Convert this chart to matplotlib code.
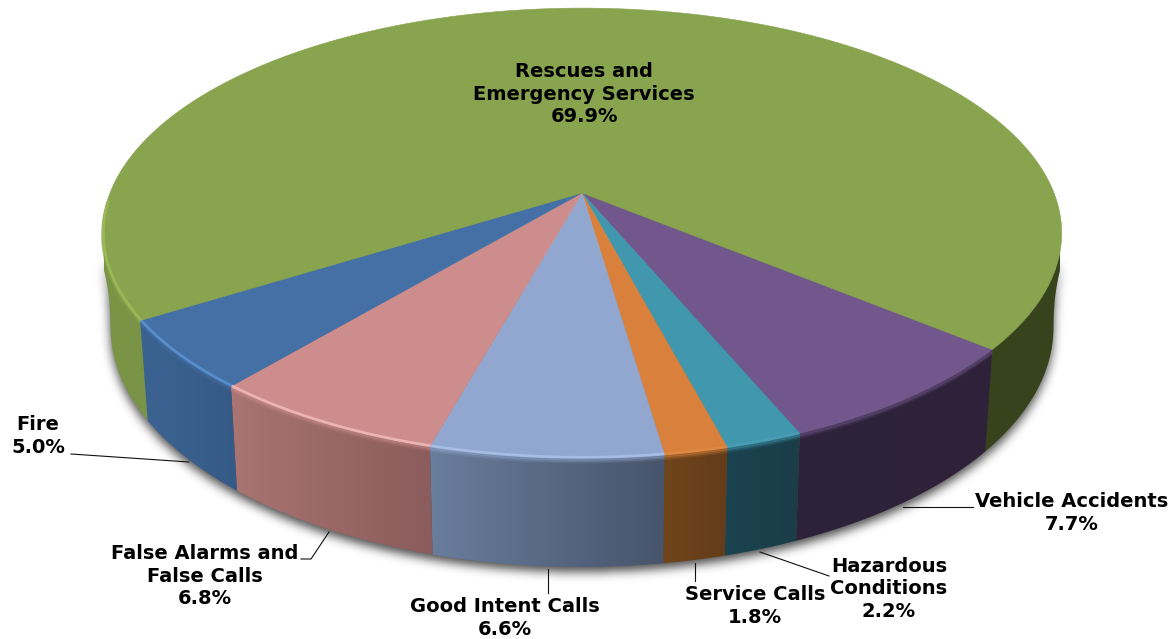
import numpy as np
import matplotlib
matplotlib.use("Agg")
import matplotlib.pyplot as plt
from matplotlib.patches import Polygon
from matplotlib.path import Path
from matplotlib.colors import to_rgb

# ---- data (clockwise from the right-hand green/purple boundary) ----
categories = ["Vehicle Accidents", "Hazardous\nConditions", "Service Calls",
              "Good Intent Calls", "False Alarms and\nFalse Calls", "Fire",
              "Rescues and\nEmergency Services"]
values = [7.7, 2.2, 1.8, 6.6, 6.8, 5.0, 69.9]

top_colors = ["#71578c", "#4097ae", "#d9813c", "#92a7cf", "#cd8d8c", "#4570a5", "#88a44f"]
rim_colors = [None, "#4a9fb6", "#e08a45", "#acc2ea", "#f2bcbb", "#5c93d2", "#9dbd58"]
side_left = ["#2f223b", "#1b4350", "#70451c", "#697d9d", "#a97472", "#3b6391", "#7a9446"]
side_right = ["#2e2139", "#1a3d48", "#633c19", "#47546b", "#8a5c5b", "#365a87", "#37431c"]

label_pos = [(1072, 513), (889, 589), (755, 606), (505, 618), (205, 576), (38, 436), (584, 94)]
leaders = [[(903, 507), (973, 507)],
           [(760, 552), (829, 576)],
           [(695, 563), (695, 581)],
           [(548, 569), (548, 593)],
           [(301, 559), (311, 559), (329, 532)],
           [(71, 454), (189, 462)]]

start_deg = 39.6
CX, CY = 582.0, 193.0
A, B, K = 472.0, 217.8, 0.178
SX, SY, DY = 0.983, 1.065, 91.7
PUSH = 347.0
WALL_HALF = 478.0

W, H = 1173, 639
fig = plt.figure(figsize=(W / 100, H / 100), dpi=100)
ax = fig.add_axes([0, 0, 1, 1])
ax.set_axis_off()


def top(t, scale=1.0):
    t = np.radians(t)
    u, v = np.cos(t) * scale, np.sin(t) * scale
    w = 1 - K * v
    return CX + A * u / w, CY + B * v / w


def bottom(t):
    x, y = top(t)
    r = np.radians(t)
    # the wall edges lean outward towards the rear of the disc
    p = PUSH * np.clip(K - np.sin(r), 0, None) ** 2 * np.sign(np.cos(r))
    return np.clip(CX + (x - CX) * SX + p, CX - WALL_HALF, CX + WALL_HALF), CY + DY + (y - CY) * SY


def blur(a, r):
    k = np.exp(-0.5 * (np.arange(-3 * r, 3 * r + 1) / r) ** 2)
    k /= k.sum()
    a = np.apply_along_axis(lambda m: np.convolve(m, k, mode="same"), 0, a)
    return np.apply_along_axis(lambda m: np.convolve(m, k, mode="same"), 1, a)


# soft shadow under the disc, fading out towards the rear
yy, xx = np.mgrid[0:H, 0:W]
tt = np.linspace(-18, 198, 300)
bx, by = bottom(tt)
sil = Path(np.c_[bx, by + 5]).contains_points(np.c_[xx.ravel() + .5, yy.ravel() + .5]).reshape(H, W)
sh = blur(sil.astype(float), 5)
rgba = np.zeros((H, W, 4))
rgba[..., 3] = sh * 0.7 * np.clip((yy - 255) / 50, 0, 1)
ax.imshow(rgba, extent=(0, W, H, 0), aspect="auto", zorder=1, interpolation="bilinear")

# angular ranges
edges = start_deg + np.cumsum([0] + values) * 3.6
ranges = [(edges[i], edges[i + 1]) for i in range(len(values))]


def side(a0, a1, cl, cr, to_apex=False):
    t = np.linspace(a0, a1, 80)
    x1, y1 = bottom(t)
    if to_apex:
        # swept towards the apex: the top faces and front walls cover the inner part
        pts = np.r_[[[CX, CY]], np.c_[x1, y1]]
    else:
        x0, y0 = top(t)
        pts = np.r_[np.c_[x0, y0], np.c_[x1, y1][::-1]]
    lo, hi = pts[:, 0].min(), pts[:, 0].max()
    c = np.linspace(0, 1, 64)[None, :, None]
    grad = np.array(to_rgb(cl))[None, None, :] * (1 - c) + np.array(to_rgb(cr))[None, None, :] * c
    im = ax.imshow(grad, extent=(lo, hi, H, 0), aspect="auto", zorder=2, interpolation="bilinear")
    poly = Polygon(pts, closed=True, transform=ax.transData, fc="none", ec="none")
    ax.add_patch(poly)
    im.set_clip_path(poly)


# green wall first: right-hand and left-hand visible parts
side(-18, start_deg, "#37431c", "#37431c", to_apex=True)
side(edges[6], 198, "#7a9446", "#7a9446", to_apex=True)
# front walls
for i in range(6):
    side(ranges[i][0], ranges[i][1], side_left[i], side_right[i])

# top faces
for i in range(7):
    a0, a1 = ranges[i]
    t = np.linspace(a0, a1, max(int(a1 - a0) * 2, 30))
    x, y = top(t)
    ax.add_patch(Polygon(np.r_[[[CX, CY]], np.c_[x, y]], closed=True,
                         fc=top_colors[i], ec=top_colors[i], lw=0.4, zorder=3))

# bevel: soft transition from face to wall, with a highlight on the lit rim
for i in range(7):
    a0, a1 = ranges[i]
    if i == 6:
        a1 = 178
    t = np.linspace(a0, a1, 60)
    x2, y2 = top(t, 1.0)
    for off, al in zip([1.5, 3.0, 4.5], [0.5, 0.3, 0.12]):
        ax.plot(x2, y2 + off, color=top_colors[i], lw=1.6, alpha=al, zorder=4,
                solid_capstyle="butt")
    if rim_colors[i] is not None:
        x, y = top(t, 0.998)
        ax.plot(x, y, color=rim_colors[i], lw=2.0, zorder=4, solid_capstyle="butt", alpha=0.85)

# leader lines
for seg in leaders:
    p = np.array(seg)
    ax.plot(p[:, 0], p[:, 1], color="#111111", lw=0.8, zorder=5)

# labels
for name, val, (lx, ly) in zip(categories, values, label_pos):
    ax.text(lx, ly, f"{name}\n{val:.1f}%", ha="center", va="center", fontsize=14,
            fontweight="bold", family="DejaVu Sans", color="black", linespacing=1.24, zorder=6)

ax.set_xlim(0, W)
ax.set_ylim(H, 0)
fig.savefig("out.png", dpi=100, facecolor="white")
